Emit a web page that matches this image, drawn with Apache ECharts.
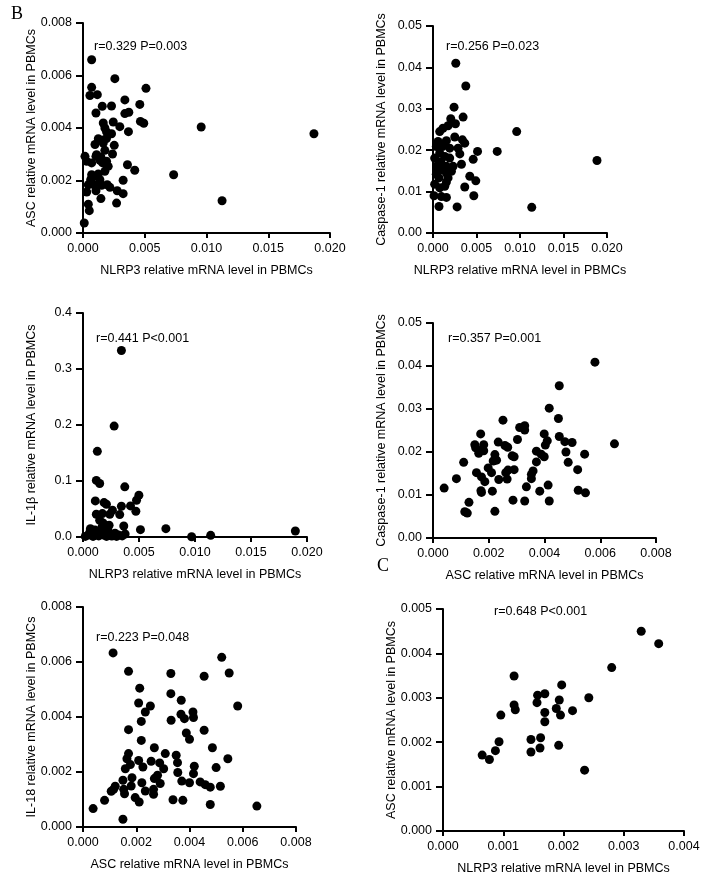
<!DOCTYPE html>
<html><head><meta charset="utf-8">
<script src="https://cdn.jsdelivr.net/npm/echarts@6/dist/echarts.min.js"></script>
<style>html,body{margin:0;padding:0;background:#fff}#c{width:717px;height:880px}</style>
</head><body><div id="c"></div>
<script>
const FONT = '"Liberation Sans", Arial, sans-serif';

const panelLetters = ['B', 'C'];
const xTitles = [
  'NLRP3 relative mRNA level in PBMCs', 'NLRP3 relative mRNA level in PBMCs',
  'NLRP3 relative mRNA level in PBMCs', 'ASC relative mRNA level in PBMCs',
  'ASC relative mRNA level in PBMCs', 'NLRP3 relative mRNA level in PBMCs'
];
const yTitles = [
  'ASC relative mRNA level in PBMCs', 'Caspase-1 relative mRNA level in PBMCs',
  'IL-1\u03b2 relative mRNA level in PBMCs', 'Caspase-1 relative mRNA level in PBMCs',
  'IL-18 relative mRNA level in PBMCs', 'ASC relative mRNA level in PBMCs'
];
const statTexts = [
  'r=0.329 P=0.003', 'r=0.256 P=0.023', 'r=0.441 P<0.001',
  'r=0.357 P=0.001', 'r=0.223 P=0.048', 'r=0.648 P<0.001'
];

// axis ranges: [xMax, xInterval, xDecimals, yMax, yInterval, yDecimals]
const axisRanges = [
  [0.020, 0.005, 3, 0.008, 0.002, 3],
  [0.020, 0.005, 3, 0.05, 0.01, 2],
  [0.020, 0.005, 3, 0.4, 0.1, 1],
  [0.008, 0.002, 3, 0.05, 0.01, 2],
  [0.008, 0.002, 3, 0.008, 0.002, 3],
  [0.004, 0.001, 3, 0.005, 0.001, 3]
];

// Panel 1: NLRP3 (x) vs ASC (y)
const nlrp3Asc = [
  [0.0007,0.0066],[0.00258,0.00588],[0.0051,0.00551],[0.0007,0.00555],[0.00056,0.00524],
  [0.00116,0.00527],[0.00156,0.00483],[0.00231,0.00484],[0.00339,0.00507],[0.0046,0.0049],
  [0.00105,0.00457],[0.00339,0.00455],[0.00371,0.0046],[0.00164,0.00419],[0.00245,0.00423],
  [0.00465,0.00425],[0.00492,0.00418],[0.00298,0.00405],[0.00368,0.00386],[0.00957,0.00404],
  [0.0187,0.00378],[0.00177,0.004],[0.00191,0.00385],[0.00231,0.00378],[0.00124,0.00359],
  [0.00159,0.00353],[0.00097,0.00337],[0.00164,0.00343],[0.00253,0.00334],[0.00177,0.00315],
  [0.00239,0.00301],[0.00016,0.00292],[0.00105,0.00292],[0.00137,0.00277],[0.0003,0.00273],
  [0.0007,0.00267],[0.00191,0.00273],[0.0036,0.0026],[0.00204,0.00254],[0.00419,0.00239],
  [0.00177,0.00235],[0.0007,0.00222],[0.00124,0.00225],[0.00734,0.00222],[0.00062,0.00203],
  [0.00137,0.00203],[0.00325,0.00201],[0.00043,0.00184],[0.00089,0.00184],[0.00151,0.00182],
  [0.00196,0.00184],[0.00218,0.00174],[0.0003,0.00156],[0.00105,0.00161],[0.00277,0.00161],
  [0.00325,0.0015],[0.00145,0.00131],[0.00272,0.00114],[0.01126,0.00123],[0.00043,0.0011],
  [0.00051,0.00085],[0.0001,0.00038],[0.0011,0.00298],[0.00159,0.00267],[0.00085,0.00215],
  [0.0019,0.0036],[0.00145,0.0029]
];

// Panel 2: NLRP3 (x) vs Caspase-1 (y)
const nlrp3Casp1 = [
  [0.00262,0.041],[0.00377,0.0355],[0.00242,0.0304],[0.00346,0.028],[0.00204,0.0276],
  [0.00258,0.0264],[0.00962,0.0245],[0.00077,0.0245],[0.00115,0.0253],[0.00173,0.0259],
  [0.0025,0.0232],[0.00338,0.0225],[0.00365,0.0217],[0.00058,0.0221],[0.00154,0.0223],
  [0.00038,0.0209],[0.00192,0.0205],[0.00288,0.0205],[0.00512,0.0197],[0.00738,0.0197],
  [0.01885,0.0175],[0.00308,0.0191],[0.00462,0.0178],[0.00077,0.0193],[0.00135,0.0185],
  [0.00192,0.0181],[0.00019,0.0181],[0.00327,0.0166],[0.00058,0.0165],[0.00154,0.0161],
  [0.00231,0.0161],[0.00096,0.0153],[0.00212,0.0149],[0.00038,0.0142],[0.00154,0.0145],
  [0.00423,0.0137],[0.00069,0.0133],[0.00173,0.0133],[0.00492,0.0126],[0.00154,0.0123],
  [0.00019,0.0118],[0.00365,0.0111],[0.00077,0.0109],[0.00135,0.0113],[0.00012,0.009],
  [0.00096,0.0088],[0.00154,0.0086],[0.00469,0.009],[0.00069,0.0064],[0.00277,0.0063],
  [0.01135,0.0062],[0.00108,0.0209],[0.0009,0.0172],[0.0012,0.0215],[0.0005,0.0155]
];

// Panel 3: NLRP3 (x) vs IL-1β (y)
const nlrp3Il1b = [
  [0.00343,0.333],[0.00278,0.198],[0.00128,0.153],[0.00119,0.101],[0.00149,0.0955],
  [0.00373,0.0896],[0.0011,0.0645],[0.00188,0.0615],[0.00209,0.0585],[0.00499,0.0746],
  [0.00478,0.0657],[0.00424,0.0555],[0.00343,0.0549],[0.00472,0.046],[0.00119,0.0406],
  [0.00263,0.0478],[0.00239,0.0406],[0.00328,0.04],[0.00173,0.0418],[0.00149,0.0299],
  [0.00179,0.0251],[0.00233,0.0209],[0.00364,0.0197],[0.00513,0.0131],[0.0074,0.0149],
  [0.01896,0.0107],[0.0097,0.0005],[0.0114,0.003],[0.00066,0.0149],[0.00107,0.0125],
  [0.00167,0.0125],[0.00048,0.0036],[0.00107,0.0036],[0.00182,0.0036],[0.00257,0.0018],
  [0.00316,0.0036],[0.00376,0.0054],[0.00227,0.0095],[0.00286,0.0066],[0.0002,0.001],
  [0.0009,0.001],[0.0014,0.002],[0.0021,0.001],[0.003,0.001],[0.0035,0.002],
  [0.0012,0.007],[0.0017,0.018],[0.0006,0.008]
];

// Panel 4: ASC (x) vs Caspase-1 (y)
const ascCasp1 = [
  [0.00581,0.0409],[0.00453,0.0354],[0.00417,0.0302],[0.0045,0.0278],[0.00251,0.0274],
  [0.00329,0.0261],[0.00311,0.0257],[0.00329,0.0251],[0.00171,0.0242],[0.00399,0.0242],
  [0.00453,0.0236],[0.00303,0.0229],[0.00473,0.0224],[0.00499,0.0222],[0.00651,0.0219],
  [0.0041,0.0226],[0.00403,0.0216],[0.00234,0.0223],[0.00258,0.0215],[0.00268,0.0211],
  [0.0015,0.0217],[0.00182,0.0217],[0.00153,0.021],[0.00168,0.0203],[0.00182,0.0203],
  [0.00164,0.0197],[0.00371,0.0202],[0.00388,0.0195],[0.00399,0.0189],[0.00477,0.02],
  [0.00544,0.0195],[0.0011,0.0176],[0.00222,0.0194],[0.00284,0.0191],[0.00291,0.0189],
  [0.00216,0.0179],[0.00228,0.0181],[0.00371,0.0177],[0.00198,0.0163],[0.0021,0.0152],
  [0.00156,0.0152],[0.00174,0.0142],[0.00269,0.0158],[0.00261,0.0152],[0.00291,0.0159],
  [0.00359,0.0156],[0.00353,0.0148],[0.00353,0.0138],[0.00266,0.0137],[0.00236,0.0136],
  [0.00485,0.0176],[0.00519,0.0159],[0.00084,0.0138],[0.00186,0.0131],[0.00335,0.0119],
  [0.00413,0.0123],[0.0004,0.0116],[0.00172,0.011],[0.00174,0.0106],[0.00213,0.0109],
  [0.00383,0.0109],[0.00521,0.0111],[0.00547,0.0105],[0.00287,0.0088],[0.00329,0.0086],
  [0.00417,0.0086],[0.00129,0.0083],[0.00114,0.0061],[0.00123,0.0058],[0.00222,0.0062]
];

// Panel 5: ASC (x) vs IL-18 (y)
const ascIl18 = [
  [0.00113,0.00633],[0.00521,0.00617],[0.00549,0.0056],[0.00171,0.00566],[0.0033,0.00558],
  [0.00455,0.00548],[0.00213,0.00505],[0.0033,0.00485],[0.00369,0.00461],[0.00581,0.0044],
  [0.00209,0.00451],[0.00253,0.0044],[0.00234,0.00418],[0.00368,0.0041],[0.00413,0.00418],
  [0.00415,0.00398],[0.00381,0.00394],[0.00219,0.00384],[0.00331,0.00388],[0.00171,0.00354],
  [0.00455,0.00352],[0.00388,0.00342],[0.004,0.00319],[0.00219,0.00315],[0.00486,0.00288],
  [0.00268,0.00288],[0.00309,0.00267],[0.00171,0.00267],[0.0035,0.00261],[0.00355,0.00234],
  [0.00165,0.00248],[0.00209,0.00242],[0.00256,0.00239],[0.00288,0.00233],[0.00178,0.00227],
  [0.00544,0.00248],[0.00225,0.00218],[0.00159,0.00212],[0.00303,0.00212],[0.005,0.00216],
  [0.00418,0.00221],[0.00415,0.00194],[0.00356,0.00198],[0.00184,0.00179],[0.00268,0.00176],
  [0.0028,0.00188],[0.00274,0.00179],[0.00371,0.00167],[0.0044,0.00164],[0.004,0.00161],
  [0.0029,0.00158],[0.0015,0.0017],[0.00221,0.00161],[0.00181,0.00149],[0.00459,0.00154],
  [0.00478,0.00145],[0.00516,0.00148],[0.00121,0.00148],[0.00115,0.00137],[0.00153,0.00137],
  [0.00265,0.00137],[0.00234,0.00131],[0.00106,0.0013],[0.00156,0.00121],[0.00265,0.00119],
  [0.00196,0.00107],[0.00211,0.00091],[0.00081,0.00097],[0.00338,0.00099],[0.00375,0.00097],
  [0.00478,0.00082],[0.00653,0.00076],[0.00038,0.00067],[0.0015,0.00028]
];

// Panel 6 (C): NLRP3 (x) vs ASC (y)
const nlrp3AscC = [
  [0.00329,0.0045],[0.00358,0.00422],[0.0028,0.00368],[0.00118,0.00349],[0.00197,0.00329],
  [0.00157,0.00306],[0.00169,0.00309],[0.00156,0.00289],[0.00193,0.00295],[0.00242,0.003],
  [0.00118,0.00284],[0.0012,0.00273],[0.00188,0.00276],[0.00215,0.00271],[0.00169,0.00267],
  [0.00195,0.00261],[0.00096,0.00261],[0.00169,0.00246],[0.00093,0.00201],[0.00146,0.00206],
  [0.00162,0.0021],[0.00087,0.00181],[0.00146,0.00178],[0.00161,0.00187],[0.00192,0.00193],
  [0.00065,0.00171],[0.00077,0.00161],[0.00235,0.00137]
];

const panelData = [nlrp3Asc, nlrp3Casp1, nlrp3Il1b, ascCasp1, ascIl18, nlrp3AscC];

// layout (pixels)
const grids = [
  {left: 83, top: 23, width: 247, height: 210},
  {left: 433, top: 26, width: 174, height: 207},
  {left: 83, top: 313, width: 224, height: 224},
  {left: 433, top: 323, width: 223, height: 215},
  {left: 83, top: 607, width: 213, height: 220},
  {left: 443, top: 609, width: 241, height: 222}
];
const yTitleX = [32, 382, 32, 382, 32, 392];
const statPos = [[94, 47], [446, 47], [96, 339], [448, 339], [96, 638], [494, 612]];
const letterPos = [[17, 14], [383, 566]];

const lineStyle = {color: '#000', width: 2};
const labelStyle = {color: '#000', fontSize: 12.5, fontFamily: FONT};

const xAxes = [], yAxes = [], series = [], graphics = [];
grids.forEach((g, i) => {
  const r = axisRanges[i];
  xAxes.push({
    type: 'value', gridIndex: i, min: 0, max: r[0], interval: r[1],
    axisLine: {show: true, onZero: false, lineStyle},
    axisTick: {show: true, length: 5, lineStyle},
    axisLabel: Object.assign({margin: 9, formatter: v => v.toFixed(r[2])}, labelStyle),
    splitLine: {show: false}
  });
  yAxes.push({
    type: 'value', gridIndex: i, min: 0, max: r[3], interval: r[4],
    axisLine: {show: true, onZero: false, lineStyle},
    axisTick: {show: true, length: 7, lineStyle},
    axisLabel: Object.assign({margin: 11, formatter: v => v.toFixed(r[5])}, labelStyle),
    splitLine: {show: false}
  });
  series.push({
    type: 'scatter', xAxisIndex: i, yAxisIndex: i, data: panelData[i],
    symbolSize: 9, itemStyle: {color: '#000', opacity: 1}, clip: false, silent: true
  });
  // y title
  graphics.push({
    type: 'text', x: yTitleX[i], y: g.top + g.height / 2, rotation: Math.PI / 2,
    style: {text: yTitles[i], fill: '#000', fontSize: 12.5, fontFamily: FONT,
            textAlign: 'center', textVerticalAlign: 'middle'}
  });
  // x title
  graphics.push({
    type: 'text', x: g.left + g.width / 2, y: g.top + g.height + 38,
    style: {text: xTitles[i], fill: '#000', fontSize: 12.5, fontFamily: FONT,
            textAlign: 'center', textVerticalAlign: 'middle'}
  });
  // stats
  graphics.push({
    type: 'text', x: statPos[i][0], y: statPos[i][1],
    style: {text: statTexts[i], fill: '#000', fontSize: 12.5, fontFamily: FONT,
            textAlign: 'left', textVerticalAlign: 'middle'}
  });
});
panelLetters.forEach((t, i) => {
  graphics.push({
    type: 'text', x: letterPos[i][0], y: letterPos[i][1],
    style: {text: t, fill: '#000', fontSize: 18, fontFamily: '"Liberation Serif", "Times New Roman", serif',
            textAlign: 'center', textVerticalAlign: 'middle'}
  });
});

const chart = echarts.init(document.getElementById('c'), null, {renderer: 'canvas'});
chart.setOption({
  animation: false,
  backgroundColor: '#fff',
  grid: grids.map(g => Object.assign({containLabel: false}, g)),
  xAxis: xAxes, yAxis: yAxes, series, graphic: graphics
});
</script></body></html>
